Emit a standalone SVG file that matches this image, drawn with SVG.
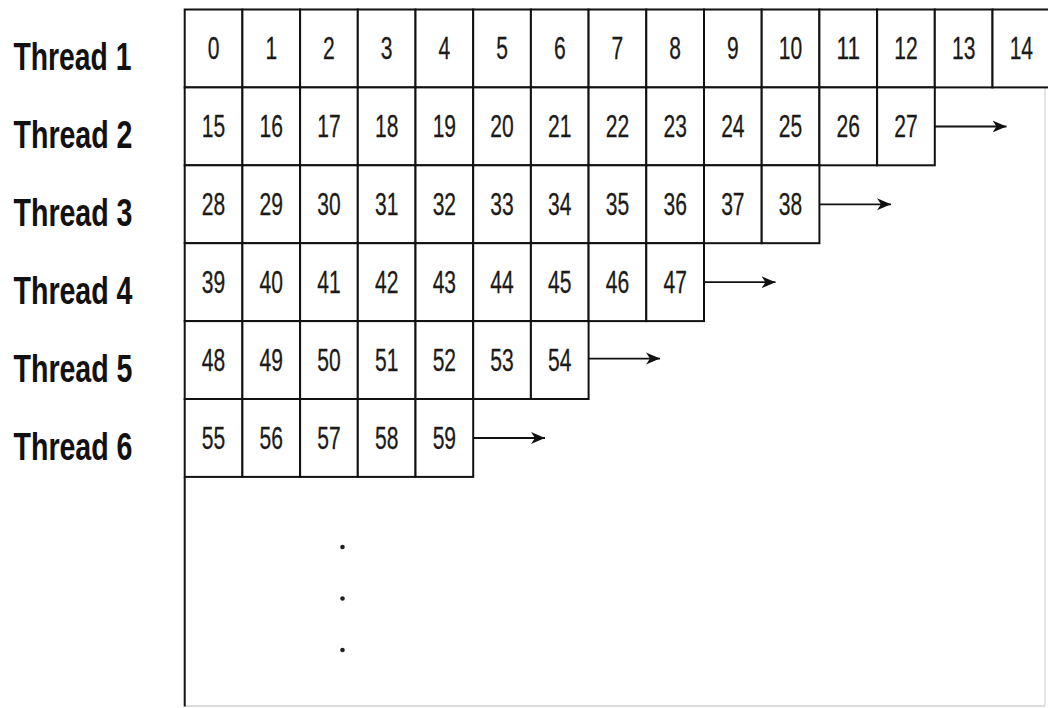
<svg xmlns="http://www.w3.org/2000/svg" width="1048" height="708" viewBox="0 0 1048 708">
<style>
.cell{fill:#fff;stroke:#111;stroke-width:2}
.num{font-family:"Liberation Sans",Arial,sans-serif;font-size:31px;fill:#1a1a1a;text-anchor:middle;stroke:#1a1a1a;stroke-width:0.3}
.lbl{font-family:"Liberation Sans",Arial,sans-serif;font-size:39px;font-weight:bold;fill:#111}
.arr{stroke:#111;stroke-width:1.8;fill:none;marker-end:url(#ah)}
.dot{fill:#222}
</style>
<defs>
<marker id="ah" markerUnits="userSpaceOnUse" markerWidth="16" markerHeight="14" refX="14" refY="7" orient="auto">
<path d="M0,1 L14,7 L0,13 L4,7 Z" fill="#111"/>
</marker>
</defs>
<rect width="1048" height="708" fill="#fff"/>
<g id="frame">
<line x1="1045" y1="87" x2="1045" y2="706" stroke="#dcdcdc" stroke-width="1.5"/>
<line x1="184.7" y1="706" x2="1045" y2="706" stroke="#d0d0d0" stroke-width="1.5"/>
<line x1="184.7" y1="476.9" x2="184.7" y2="706.5" stroke="#111" stroke-width="2"/>
</g>
<g id="labels">
<g id="thread-1"><text class="lbl" x="13.5" y="70" textLength="118" lengthAdjust="spacingAndGlyphs">Thread 1</text></g>
<g id="thread-2"><text class="lbl" x="13.5" y="148" textLength="119" lengthAdjust="spacingAndGlyphs">Thread 2</text></g>
<g id="thread-3"><text class="lbl" x="13.5" y="226" textLength="119" lengthAdjust="spacingAndGlyphs">Thread 3</text></g>
<g id="thread-4"><text class="lbl" x="13.5" y="304" textLength="119" lengthAdjust="spacingAndGlyphs">Thread 4</text></g>
<g id="thread-5"><text class="lbl" x="13.5" y="382" textLength="119" lengthAdjust="spacingAndGlyphs">Thread 5</text></g>
<g id="thread-6"><text class="lbl" x="13.5" y="460" textLength="119" lengthAdjust="spacingAndGlyphs">Thread 6</text></g>
</g>
<g id="row-1">
<g id="cell-0"><rect class="cell" x="184.7" y="9.5" width="57.7" height="77.9"/><text class="num" x="213.55" y="59.4" textLength="11.7" lengthAdjust="spacingAndGlyphs">0</text></g>
<g id="cell-1"><rect class="cell" x="242.4" y="9.5" width="57.7" height="77.9"/><text class="num" x="271.25" y="59.4" textLength="11.7" lengthAdjust="spacingAndGlyphs">1</text></g>
<g id="cell-2"><rect class="cell" x="300.1" y="9.5" width="57.7" height="77.9"/><text class="num" x="328.95" y="59.4" textLength="11.7" lengthAdjust="spacingAndGlyphs">2</text></g>
<g id="cell-3"><rect class="cell" x="357.8" y="9.5" width="57.7" height="77.9"/><text class="num" x="386.65" y="59.4" textLength="11.7" lengthAdjust="spacingAndGlyphs">3</text></g>
<g id="cell-4"><rect class="cell" x="415.5" y="9.5" width="57.7" height="77.9"/><text class="num" x="444.35" y="59.4" textLength="11.7" lengthAdjust="spacingAndGlyphs">4</text></g>
<g id="cell-5"><rect class="cell" x="473.2" y="9.5" width="57.7" height="77.9"/><text class="num" x="502.05" y="59.4" textLength="11.7" lengthAdjust="spacingAndGlyphs">5</text></g>
<g id="cell-6"><rect class="cell" x="530.9" y="9.5" width="57.7" height="77.9"/><text class="num" x="559.75" y="59.4" textLength="11.7" lengthAdjust="spacingAndGlyphs">6</text></g>
<g id="cell-7"><rect class="cell" x="588.6" y="9.5" width="57.7" height="77.9"/><text class="num" x="617.45" y="59.4" textLength="11.7" lengthAdjust="spacingAndGlyphs">7</text></g>
<g id="cell-8"><rect class="cell" x="646.3" y="9.5" width="57.7" height="77.9"/><text class="num" x="675.15" y="59.4" textLength="11.7" lengthAdjust="spacingAndGlyphs">8</text></g>
<g id="cell-9"><rect class="cell" x="704.0" y="9.5" width="57.7" height="77.9"/><text class="num" x="732.85" y="59.4" textLength="11.7" lengthAdjust="spacingAndGlyphs">9</text></g>
<g id="cell-10"><rect class="cell" x="761.7" y="9.5" width="57.7" height="77.9"/><text class="num" x="790.55" y="59.4" textLength="23.4" lengthAdjust="spacingAndGlyphs">10</text></g>
<g id="cell-11"><rect class="cell" x="819.4" y="9.5" width="57.7" height="77.9"/><text class="num" x="848.25" y="59.4" textLength="23.4" lengthAdjust="spacingAndGlyphs">11</text></g>
<g id="cell-12"><rect class="cell" x="877.1" y="9.5" width="57.7" height="77.9"/><text class="num" x="905.95" y="59.4" textLength="23.4" lengthAdjust="spacingAndGlyphs">12</text></g>
<g id="cell-13"><rect class="cell" x="934.8" y="9.5" width="57.7" height="77.9"/><text class="num" x="963.65" y="59.4" textLength="23.4" lengthAdjust="spacingAndGlyphs">13</text></g>
<g id="cell-14"><rect class="cell" x="992.5" y="9.5" width="57.7" height="77.9"/><text class="num" x="1021.35" y="59.4" textLength="23.4" lengthAdjust="spacingAndGlyphs">14</text></g>
</g>
<g id="row-2">
<g id="cell-15"><rect class="cell" x="184.7" y="87.4" width="57.7" height="77.9"/><text class="num" x="213.55" y="137.3" textLength="23.4" lengthAdjust="spacingAndGlyphs">15</text></g>
<g id="cell-16"><rect class="cell" x="242.4" y="87.4" width="57.7" height="77.9"/><text class="num" x="271.25" y="137.3" textLength="23.4" lengthAdjust="spacingAndGlyphs">16</text></g>
<g id="cell-17"><rect class="cell" x="300.1" y="87.4" width="57.7" height="77.9"/><text class="num" x="328.95" y="137.3" textLength="23.4" lengthAdjust="spacingAndGlyphs">17</text></g>
<g id="cell-18"><rect class="cell" x="357.8" y="87.4" width="57.7" height="77.9"/><text class="num" x="386.65" y="137.3" textLength="23.4" lengthAdjust="spacingAndGlyphs">18</text></g>
<g id="cell-19"><rect class="cell" x="415.5" y="87.4" width="57.7" height="77.9"/><text class="num" x="444.35" y="137.3" textLength="23.4" lengthAdjust="spacingAndGlyphs">19</text></g>
<g id="cell-20"><rect class="cell" x="473.2" y="87.4" width="57.7" height="77.9"/><text class="num" x="502.05" y="137.3" textLength="23.4" lengthAdjust="spacingAndGlyphs">20</text></g>
<g id="cell-21"><rect class="cell" x="530.9" y="87.4" width="57.7" height="77.9"/><text class="num" x="559.75" y="137.3" textLength="23.4" lengthAdjust="spacingAndGlyphs">21</text></g>
<g id="cell-22"><rect class="cell" x="588.6" y="87.4" width="57.7" height="77.9"/><text class="num" x="617.45" y="137.3" textLength="23.4" lengthAdjust="spacingAndGlyphs">22</text></g>
<g id="cell-23"><rect class="cell" x="646.3" y="87.4" width="57.7" height="77.9"/><text class="num" x="675.15" y="137.3" textLength="23.4" lengthAdjust="spacingAndGlyphs">23</text></g>
<g id="cell-24"><rect class="cell" x="704.0" y="87.4" width="57.7" height="77.9"/><text class="num" x="732.85" y="137.3" textLength="23.4" lengthAdjust="spacingAndGlyphs">24</text></g>
<g id="cell-25"><rect class="cell" x="761.7" y="87.4" width="57.7" height="77.9"/><text class="num" x="790.55" y="137.3" textLength="23.4" lengthAdjust="spacingAndGlyphs">25</text></g>
<g id="cell-26"><rect class="cell" x="819.4" y="87.4" width="57.7" height="77.9"/><text class="num" x="848.25" y="137.3" textLength="23.4" lengthAdjust="spacingAndGlyphs">26</text></g>
<g id="cell-27"><rect class="cell" x="877.1" y="87.4" width="57.7" height="77.9"/><text class="num" x="905.95" y="137.3" textLength="23.4" lengthAdjust="spacingAndGlyphs">27</text></g>
</g>
<g id="row-3">
<g id="cell-28"><rect class="cell" x="184.7" y="165.3" width="57.7" height="77.9"/><text class="num" x="213.55" y="215.2" textLength="23.4" lengthAdjust="spacingAndGlyphs">28</text></g>
<g id="cell-29"><rect class="cell" x="242.4" y="165.3" width="57.7" height="77.9"/><text class="num" x="271.25" y="215.2" textLength="23.4" lengthAdjust="spacingAndGlyphs">29</text></g>
<g id="cell-30"><rect class="cell" x="300.1" y="165.3" width="57.7" height="77.9"/><text class="num" x="328.95" y="215.2" textLength="23.4" lengthAdjust="spacingAndGlyphs">30</text></g>
<g id="cell-31"><rect class="cell" x="357.8" y="165.3" width="57.7" height="77.9"/><text class="num" x="386.65" y="215.2" textLength="23.4" lengthAdjust="spacingAndGlyphs">31</text></g>
<g id="cell-32"><rect class="cell" x="415.5" y="165.3" width="57.7" height="77.9"/><text class="num" x="444.35" y="215.2" textLength="23.4" lengthAdjust="spacingAndGlyphs">32</text></g>
<g id="cell-33"><rect class="cell" x="473.2" y="165.3" width="57.7" height="77.9"/><text class="num" x="502.05" y="215.2" textLength="23.4" lengthAdjust="spacingAndGlyphs">33</text></g>
<g id="cell-34"><rect class="cell" x="530.9" y="165.3" width="57.7" height="77.9"/><text class="num" x="559.75" y="215.2" textLength="23.4" lengthAdjust="spacingAndGlyphs">34</text></g>
<g id="cell-35"><rect class="cell" x="588.6" y="165.3" width="57.7" height="77.9"/><text class="num" x="617.45" y="215.2" textLength="23.4" lengthAdjust="spacingAndGlyphs">35</text></g>
<g id="cell-36"><rect class="cell" x="646.3" y="165.3" width="57.7" height="77.9"/><text class="num" x="675.15" y="215.2" textLength="23.4" lengthAdjust="spacingAndGlyphs">36</text></g>
<g id="cell-37"><rect class="cell" x="704.0" y="165.3" width="57.7" height="77.9"/><text class="num" x="732.85" y="215.2" textLength="23.4" lengthAdjust="spacingAndGlyphs">37</text></g>
<g id="cell-38"><rect class="cell" x="761.7" y="165.3" width="57.7" height="77.9"/><text class="num" x="790.55" y="215.2" textLength="23.4" lengthAdjust="spacingAndGlyphs">38</text></g>
</g>
<g id="row-4">
<g id="cell-39"><rect class="cell" x="184.7" y="243.2" width="57.7" height="77.9"/><text class="num" x="213.55" y="293.1" textLength="23.4" lengthAdjust="spacingAndGlyphs">39</text></g>
<g id="cell-40"><rect class="cell" x="242.4" y="243.2" width="57.7" height="77.9"/><text class="num" x="271.25" y="293.1" textLength="23.4" lengthAdjust="spacingAndGlyphs">40</text></g>
<g id="cell-41"><rect class="cell" x="300.1" y="243.2" width="57.7" height="77.9"/><text class="num" x="328.95" y="293.1" textLength="23.4" lengthAdjust="spacingAndGlyphs">41</text></g>
<g id="cell-42"><rect class="cell" x="357.8" y="243.2" width="57.7" height="77.9"/><text class="num" x="386.65" y="293.1" textLength="23.4" lengthAdjust="spacingAndGlyphs">42</text></g>
<g id="cell-43"><rect class="cell" x="415.5" y="243.2" width="57.7" height="77.9"/><text class="num" x="444.35" y="293.1" textLength="23.4" lengthAdjust="spacingAndGlyphs">43</text></g>
<g id="cell-44"><rect class="cell" x="473.2" y="243.2" width="57.7" height="77.9"/><text class="num" x="502.05" y="293.1" textLength="23.4" lengthAdjust="spacingAndGlyphs">44</text></g>
<g id="cell-45"><rect class="cell" x="530.9" y="243.2" width="57.7" height="77.9"/><text class="num" x="559.75" y="293.1" textLength="23.4" lengthAdjust="spacingAndGlyphs">45</text></g>
<g id="cell-46"><rect class="cell" x="588.6" y="243.2" width="57.7" height="77.9"/><text class="num" x="617.45" y="293.1" textLength="23.4" lengthAdjust="spacingAndGlyphs">46</text></g>
<g id="cell-47"><rect class="cell" x="646.3" y="243.2" width="57.7" height="77.9"/><text class="num" x="675.15" y="293.1" textLength="23.4" lengthAdjust="spacingAndGlyphs">47</text></g>
</g>
<g id="row-5">
<g id="cell-48"><rect class="cell" x="184.7" y="321.1" width="57.7" height="77.9"/><text class="num" x="213.55" y="371.0" textLength="23.4" lengthAdjust="spacingAndGlyphs">48</text></g>
<g id="cell-49"><rect class="cell" x="242.4" y="321.1" width="57.7" height="77.9"/><text class="num" x="271.25" y="371.0" textLength="23.4" lengthAdjust="spacingAndGlyphs">49</text></g>
<g id="cell-50"><rect class="cell" x="300.1" y="321.1" width="57.7" height="77.9"/><text class="num" x="328.95" y="371.0" textLength="23.4" lengthAdjust="spacingAndGlyphs">50</text></g>
<g id="cell-51"><rect class="cell" x="357.8" y="321.1" width="57.7" height="77.9"/><text class="num" x="386.65" y="371.0" textLength="23.4" lengthAdjust="spacingAndGlyphs">51</text></g>
<g id="cell-52"><rect class="cell" x="415.5" y="321.1" width="57.7" height="77.9"/><text class="num" x="444.35" y="371.0" textLength="23.4" lengthAdjust="spacingAndGlyphs">52</text></g>
<g id="cell-53"><rect class="cell" x="473.2" y="321.1" width="57.7" height="77.9"/><text class="num" x="502.05" y="371.0" textLength="23.4" lengthAdjust="spacingAndGlyphs">53</text></g>
<g id="cell-54"><rect class="cell" x="530.9" y="321.1" width="57.7" height="77.9"/><text class="num" x="559.75" y="371.0" textLength="23.4" lengthAdjust="spacingAndGlyphs">54</text></g>
</g>
<g id="row-6">
<g id="cell-55"><rect class="cell" x="184.7" y="399" width="57.7" height="77.9"/><text class="num" x="213.55" y="448.9" textLength="23.4" lengthAdjust="spacingAndGlyphs">55</text></g>
<g id="cell-56"><rect class="cell" x="242.4" y="399" width="57.7" height="77.9"/><text class="num" x="271.25" y="448.9" textLength="23.4" lengthAdjust="spacingAndGlyphs">56</text></g>
<g id="cell-57"><rect class="cell" x="300.1" y="399" width="57.7" height="77.9"/><text class="num" x="328.95" y="448.9" textLength="23.4" lengthAdjust="spacingAndGlyphs">57</text></g>
<g id="cell-58"><rect class="cell" x="357.8" y="399" width="57.7" height="77.9"/><text class="num" x="386.65" y="448.9" textLength="23.4" lengthAdjust="spacingAndGlyphs">58</text></g>
<g id="cell-59"><rect class="cell" x="415.5" y="399" width="57.7" height="77.9"/><text class="num" x="444.35" y="448.9" textLength="23.4" lengthAdjust="spacingAndGlyphs">59</text></g>
</g>
<g id="connectors">
<line class="arr" x1="934.8" y1="126.5" x2="1006.5" y2="126.5"/>
<line class="arr" x1="819.4" y1="204.3" x2="891" y2="204.3"/>
<line class="arr" x1="704.0" y1="282.2" x2="775.5" y2="282.2"/>
<line class="arr" x1="588.6" y1="358.6" x2="660" y2="358.6"/>
<line class="arr" x1="473.2" y1="438" x2="545" y2="438"/>
</g>
<g id="ellipsis">
<circle class="dot" cx="342.5" cy="547" r="2.3"/>
<circle class="dot" cx="342.5" cy="598.5" r="2.3"/>
<circle class="dot" cx="342.5" cy="650" r="2.3"/>
</g>
</svg>
